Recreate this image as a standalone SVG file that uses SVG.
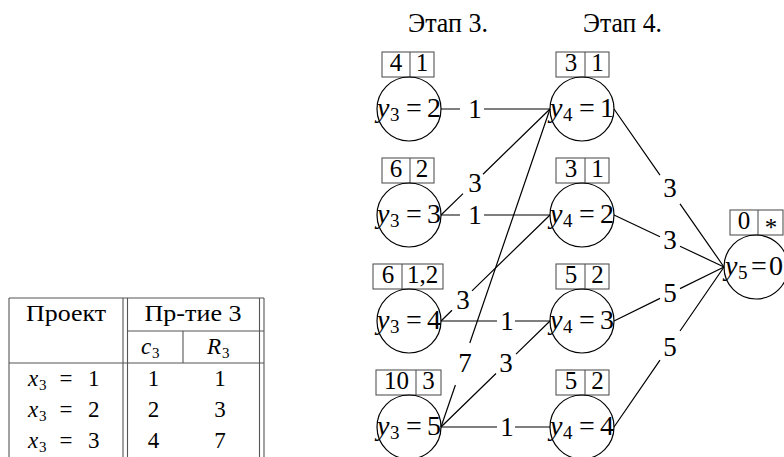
<svg xmlns="http://www.w3.org/2000/svg" width="784" height="457" viewBox="0 0 784 457">
  <style>
    .t { font-family: "Liberation Serif", "Times New Roman", serif; fill: #000; }
    .i { font-style: italic; }
    .hd { font-size: 27px; }
    .lbl { font-size: 28px; }
    .sub { font-size: 19px; }
    .bx { font-size: 25px; text-anchor: middle; }
    .el { font-size: 27px; text-anchor: middle; }
    .tb { font-size: 23px; }
    .tbs { font-size: 15px; }
    .mid { text-anchor: middle; }
    circle { fill: none; stroke: #000; stroke-width: 1.2; }
    .box rect, .box line { fill: none; stroke: #555; stroke-width: 1.1; }
    #edges path { fill: none; stroke: #000; stroke-width: 1.2; }
    #table line { stroke: #555; stroke-width: 1.1; }
  </style>

  <!-- stage headings -->
  <text class="t hd" x="408" y="32" textLength="80" lengthAdjust="spacingAndGlyphs">Этап 3.</text>
  <text class="t hd" x="583" y="32" textLength="79" lengthAdjust="spacingAndGlyphs">Этап 4.</text>

  <!-- connectors, each broken where its weight label sits -->
  <g id="edges">
    <path d="M441 109 H460 M484 109 H550"/>
    <path d="M441 215 H460 M484 215 H550"/>
    <path d="M441 321 H497 M515 321 H550"/>
    <path d="M441 427 H497 M515 427 H550"/>
    <path d="M441 215 L463 193.6 M483 174.2 L550 109"/>
    <path d="M441 321 L452 310.3 M472 290.9 L550 215"/>
    <path d="M441 427 L496 373.5 M516 354.1 L550 321"/>
    <path d="M441 427 L455.4 385 M469.8 343 L550 109"/>
    <path d="M614 109 L660 175.1 M680 203.8 L724 267"/>
    <path d="M614 215 L660 236.7 M680 246.2 L724 267"/>
    <path d="M614 321 L660 298.4 M680 288.6 L724 267"/>
    <path d="M614 427 L660 360.1 M680 331 L724 267"/>
    <g>
      <text class="t el" x="475" y="118">1</text>
      <text class="t el" x="475" y="224">1</text>
      <text class="t el" x="507" y="330">1</text>
      <text class="t el" x="507" y="436">1</text>
      <text class="t el" x="475" y="192">3</text>
      <text class="t el" x="463" y="309">3</text>
      <text class="t el" x="506" y="372">3</text>
      <text class="t el" x="465" y="372">7</text>
      <text class="t el" x="670" y="197">3</text>
      <text class="t el" x="670" y="249">3</text>
      <text class="t el" x="670" y="302">5</text>
      <text class="t el" x="670" y="356">5</text>
    </g>
  </g>

  <!-- stage 3 states -->
  <g id="n-y3-2">
    <g class="box"><rect x="382" y="52" width="52" height="25"/><line x1="410" y1="52" x2="410" y2="77"/></g>
    <text class="t bx" x="396" y="71">4</text><text class="t bx" x="422" y="71">1</text>
    <circle cx="409" cy="109" r="32"/>
    <text class="t lbl" y="117"><tspan class="i" x="377">y</tspan><tspan class="sub" x="390" y="121">3</tspan><tspan class="mid" x="414" y="117">=</tspan><tspan x="427">2</tspan></text>
  </g>
  <g id="n-y3-3">
    <g class="box"><rect x="382" y="158" width="52" height="25"/><line x1="410" y1="158" x2="410" y2="183"/></g>
    <text class="t bx" x="396" y="177">6</text><text class="t bx" x="422" y="177">2</text>
    <circle cx="409" cy="215" r="32"/>
    <text class="t lbl" y="223"><tspan class="i" x="377">y</tspan><tspan class="sub" x="390" y="227">3</tspan><tspan class="mid" x="414" y="223">=</tspan><tspan x="427">3</tspan></text>
  </g>
  <g id="n-y3-4">
    <g class="box"><rect x="373" y="264" width="70" height="25"/><line x1="402" y1="264" x2="402" y2="289"/></g>
    <text class="t bx" x="388" y="283">6</text><text class="t bx" x="422.5" y="283">1,2</text>
    <circle cx="409" cy="321" r="32"/>
    <text class="t lbl" y="329"><tspan class="i" x="377">y</tspan><tspan class="sub" x="390" y="333">3</tspan><tspan class="mid" x="414" y="329">=</tspan><tspan x="427">4</tspan></text>
  </g>
  <g id="n-y3-5">
    <g class="box"><rect x="376" y="370" width="65" height="25"/><line x1="416" y1="370" x2="416" y2="395"/></g>
    <text class="t bx" x="396.5" y="389">10</text><text class="t bx" x="428.5" y="389">3</text>
    <circle cx="409" cy="427" r="32"/>
    <text class="t lbl" y="435"><tspan class="i" x="377">y</tspan><tspan class="sub" x="390" y="439">3</tspan><tspan class="mid" x="414" y="435">=</tspan><tspan x="427">5</tspan></text>
  </g>

  <!-- stage 4 states -->
  <g id="n-y4-1">
    <g class="box"><rect x="556" y="52" width="53" height="25"/><line x1="585" y1="52" x2="585" y2="77"/></g>
    <text class="t bx" x="571" y="71">3</text><text class="t bx" x="597.5" y="71">1</text>
    <circle cx="582" cy="109" r="32"/>
    <text class="t lbl" y="117"><tspan class="i" x="550">y</tspan><tspan class="sub" x="563" y="121">4</tspan><tspan class="mid" x="587" y="117">=</tspan><tspan x="600">1</tspan></text>
  </g>
  <g id="n-y4-2">
    <g class="box"><rect x="556" y="158" width="53" height="25"/><line x1="585" y1="158" x2="585" y2="183"/></g>
    <text class="t bx" x="571" y="177">3</text><text class="t bx" x="597.5" y="177">1</text>
    <circle cx="582" cy="215" r="32"/>
    <text class="t lbl" y="223"><tspan class="i" x="550">y</tspan><tspan class="sub" x="563" y="227">4</tspan><tspan class="mid" x="587" y="223">=</tspan><tspan x="600">2</tspan></text>
  </g>
  <g id="n-y4-3">
    <g class="box"><rect x="556" y="264" width="53" height="25"/><line x1="585" y1="264" x2="585" y2="289"/></g>
    <text class="t bx" x="571" y="283">5</text><text class="t bx" x="597.5" y="283">2</text>
    <circle cx="582" cy="321" r="32"/>
    <text class="t lbl" y="329"><tspan class="i" x="550">y</tspan><tspan class="sub" x="563" y="333">4</tspan><tspan class="mid" x="587" y="329">=</tspan><tspan x="600">3</tspan></text>
  </g>
  <g id="n-y4-4">
    <g class="box"><rect x="556" y="370" width="53" height="25"/><line x1="585" y1="370" x2="585" y2="395"/></g>
    <text class="t bx" x="571" y="389">5</text><text class="t bx" x="597.5" y="389">2</text>
    <circle cx="582" cy="427" r="32"/>
    <text class="t lbl" y="435"><tspan class="i" x="550">y</tspan><tspan class="sub" x="563" y="439">4</tspan><tspan class="mid" x="587" y="435">=</tspan><tspan x="600">4</tspan></text>
  </g>

  <!-- final state -->
  <g id="n-y5-0">
    <g class="box"><rect x="730" y="210" width="53" height="25"/><line x1="758" y1="210" x2="758" y2="235"/></g>
    <text class="t bx" x="744" y="229">0</text><text class="t bx" x="771" y="236">*</text>
    <circle cx="756" cy="267" r="32"/>
    <text class="t lbl" y="275"><tspan class="i" x="725">y</tspan><tspan class="sub" x="738" y="279">5</tspan><tspan class="mid" x="759" y="275">=</tspan><tspan x="769">0</tspan></text>
  </g>

  <!-- project table -->
  <g id="table">
    <line x1="9" y1="298" x2="264" y2="298"/>
    <line x1="127.5" y1="331" x2="264" y2="331"/>
    <line x1="9" y1="363" x2="264" y2="363"/>
    <line x1="9" y1="298" x2="9" y2="457"/>
    <line x1="123" y1="298" x2="123" y2="457"/>
    <line x1="127.5" y1="298" x2="127.5" y2="457"/>
    <line x1="183" y1="331" x2="183" y2="363"/>
    <line x1="259.5" y1="298" x2="259.5" y2="457"/>
    <line x1="264" y1="298" x2="264" y2="457"/>
    <text class="t tb mid" x="66" y="321" textLength="80" lengthAdjust="spacingAndGlyphs">Проект</text>
    <text class="t tb mid" x="193" y="321" textLength="97" lengthAdjust="spacingAndGlyphs">Пр-тие 3</text>
    <text class="t tb" y="354"><tspan class="i" x="141">c</tspan><tspan class="tbs" x="152" y="358">3</tspan></text>
    <text class="t tb" y="354"><tspan class="i" x="207">R</tspan><tspan class="tbs" x="222" y="358">3</tspan></text>
    <text class="t tb" y="386"><tspan class="i" x="28">x</tspan><tspan class="tbs" x="39" y="390">3</tspan><tspan class="mid" x="66" y="386">=</tspan><tspan x="88">1</tspan></text>
    <text class="t tb" y="417"><tspan class="i" x="28">x</tspan><tspan class="tbs" x="39" y="421">3</tspan><tspan class="mid" x="66" y="417">=</tspan><tspan x="88">2</tspan></text>
    <text class="t tb" y="448"><tspan class="i" x="28">x</tspan><tspan class="tbs" x="39" y="452">3</tspan><tspan class="mid" x="66" y="448">=</tspan><tspan x="88">3</tspan></text>
    <text class="t tb mid" x="153.5" y="386">1</text>
    <text class="t tb mid" x="153.5" y="417">2</text>
    <text class="t tb mid" x="153.5" y="448">4</text>
    <text class="t tb mid" x="220" y="386">1</text>
    <text class="t tb mid" x="220" y="417">3</text>
    <text class="t tb mid" x="220" y="448">7</text>
  </g>
</svg>
